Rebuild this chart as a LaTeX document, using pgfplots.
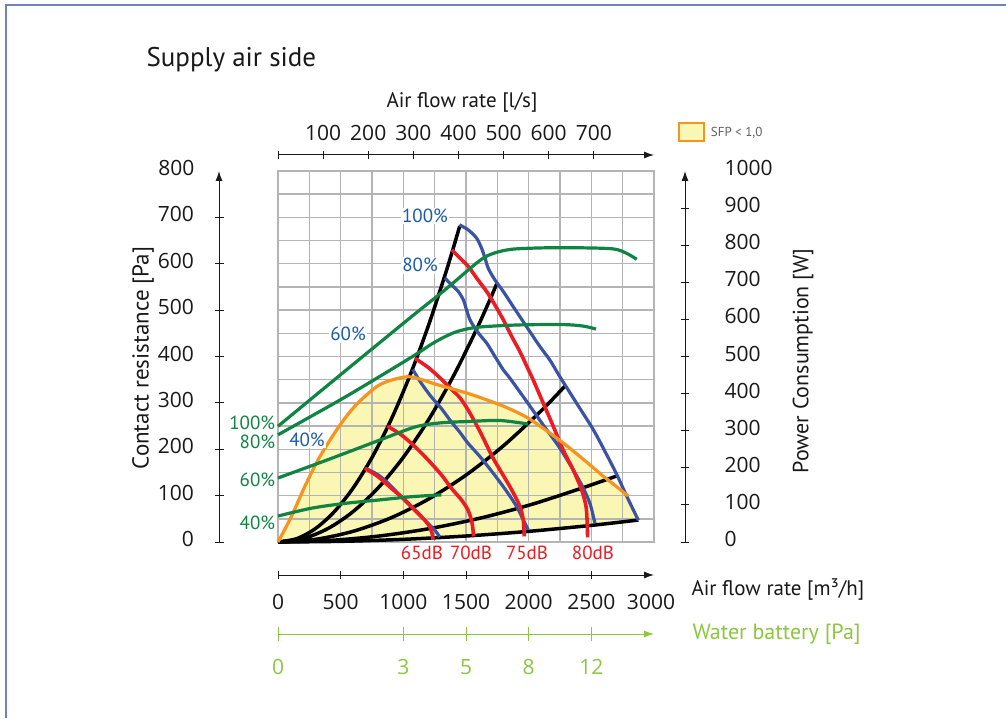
\documentclass[border=0pt]{standalone}
\usepackage{fontspec}
\setmainfont{PT Sans}
\newfontfamily\numfont{Open Sans}
\usepackage{pgfplots}
\pgfplotsset{compat=1.18}
\usetikzlibrary{arrows.meta}

\definecolor{cblue}{RGB}{58,83,164}
\definecolor{cred}{RGB}{237,28,36}
\definecolor{cgreen}{RGB}{16,133,67}
\definecolor{clgreen}{RGB}{141,198,63}
\definecolor{corange}{RGB}{247,148,30}
\definecolor{cyellow}{RGB}{250,246,180}
\definecolor{cgrid}{RGB}{180,180,180}
\definecolor{cframe}{RGB}{112,128,192}
\definecolor{ctext}{RGB}{25,25,25}
\definecolor{clabblue}{RGB}{30,90,170}

\tikzset{arrowaxis/.style={-{Latex[length=10pt,width=7pt]}}}
\pgfplotsset{
  base/.style={scale only axis, anchor=south west, clip=false,
    /pgf/number format/assume math mode=true,
    /pgf/number format/1000 sep={},
    tick label style={font=\numfont\fontsize{21}{24}\selectfont, text=ctext}},
}

\begin{document}
\begin{tikzpicture}[x=1pt,y=1pt]
\useasboundingbox (0,0) rectangle (1006,718);
\fill[white] (0,0) rectangle (1006,718);
\draw[cframe, line width=1.5pt] (6,0) -- (6,713) -- (1006,713);

% ---------- fill of SFP region + legend
\begin{axis}[base, at={(278pt,176pt)}, width=376pt, height=371pt,
  xmin=0, xmax=3000, ymin=0, ymax=800, hide axis,
  legend style={at={(1.063,1.104)}, anchor=west, draw=none, fill=none,
    inner sep=0pt, font=\fontsize{13}{15}\selectfont, text=black!62},
  legend image code/.code={\draw[draw=corange, fill=cyellow, line width=2pt] (0pt,-9pt) rectangle (25pt,9pt);}]
\addplot[fill=cyellow, draw=none] coordinates {
(0,0) (106,54.6) (213,119.3) (319,176.8) (425,224) (532,266) (638,300)
(798,337) (931,351) (1064,356) (1268,339.5) (1532,319) (1795,293.3)
(1987,268.5) (2146,239.4) (2306,207.1) (2466,171.5) (2593,142.4) (2705,118.6)
(2793,99.2) (2875,47.4) (2500,35.84) (2000,22.94) (1500,12.9)
(1000,5.74) (500,1.43) (0,0)};
\addlegendentry{\hspace{4pt}SFP < 1,0}
\end{axis}

% ---------- grid and main curves
\begin{axis}[base, at={(278pt,176pt)}, width=376pt, height=371pt,
  xmin=0, xmax=3000, ymin=0, ymax=800,
  xtick={0,250,...,3000}, ytick={0,50,...,800},
  xticklabels={}, yticklabels={}, major tick length=0pt,
  grid=major, major grid style={cgrid, line width=1.5pt},
  axis line style={cgrid, line width=1.7pt}]
% system curves
\addplot[black, line width=3.5pt, smooth] coordinates {(0,0) (150,7.29) (300,29.16) (450,65.61) (600,116.64) (750,182.25) (900,262.44) (1050,357.21) (1200,466.56) (1350,590.49) (1450,681.21)};
\addplot[black, line width=3.5pt, smooth] coordinates {(0,0) (200,7.31) (400,29.23) (600,65.77) (800,116.93) (1000,182.7) (1200,263.09) (1400,358.09) (1600,467.71) (1745,556.33)};
\addplot[black, line width=3.5pt, smooth] coordinates {(0,0) (300,5.77) (600,23.09) (900,51.96) (1200,92.38) (1500,144.34) (1800,207.85) (2100,282.9) (2290,336.41)};
\addplot[black, line width=3.5pt, smooth] coordinates {(0,0) (400,3.17) (800,12.67) (1200,28.5) (1600,50.66) (2000,79.16) (2400,113.99) (2710,143)};
\addplot[black, line width=3.5pt, smooth] coordinates {(0,0) (500,1.43) (1000,5.74) (1500,12.9) (2000,22.94) (2500,35.84) (2875,47.4)};
% fan speed curves
\addplot[cblue, line width=3.2pt, smooth] coordinates {(1447,684) (1518,673) (1585,655) (1625,633) (1652,612) (1678,590) (1731,565) (1798,540) (1878,507) (1984,464) (2091,421) (2170,392) (2250,356) (2383,299) (2516,242) (2623,188) (2702,146) (2782,99) (2875,47)};
\addplot[cblue, line width=3.2pt, smooth] coordinates {(1332,569) (1386,554) (1439,540) (1479,522) (1505,500) (1532,479) (1572,461) (1612,446) (1665,429) (1731,400) (1798,371) (1851,353) (1984,303) (2117,252) (2250,202) (2356,155) (2436,116) (2489,83) (2516,55) (2529,40)};
\addplot[cblue, line width=3.2pt, smooth] coordinates {(1075,372) (1144,342) (1223,313) (1303,288) (1383,259) (1447,238) (1516,213) (1612,184) (1718,148) (1825,109) (1905,76) (1958,47) (1997,26)};
\addplot[cblue, line width=3.2pt, smooth] coordinates {(697,159) (798,145) (878,127) (957,105) (1037,83) (1117,62) (1197,40) (1250,26) (1290,11)};
% sound level curves
\addplot[cred, line width=3.6pt, smooth] coordinates {(692,159) (798,141) (904,116) (1011,91) (1091,69) (1171,47) (1210,33) (1229,19) (1237,6)};
\addplot[cred, line width=3.6pt, smooth] coordinates {(872,250) (984,231) (1091,206) (1197,177) (1303,145) (1383,116) (1463,91) (1516,69) (1540,50) (1553,33) (1560,12)};
\addplot[cred, line width=3.6pt, smooth] coordinates {(1093,396) (1200,376) (1300,352) (1400,325) (1452,311) (1516,285) (1612,238) (1718,180) (1851,119) (1931,76) (1957,47) (1965,12)};
\addplot[cred, line width=3.6pt, smooth] coordinates {(1386,630) (1452,612) (1519,594) (1585,569) (1665,540) (1731,511) (1798,479) (1865,443) (1931,410) (1997,372) (2037,349) (2117,299) (2197,249) (2276,198) (2356,155) (2423,112) (2458,76) (2468,33) (2470,10)};
% SFP boundary
\addplot[corange, line width=3.2pt, smooth] coordinates {(0,0) (106,54.6) (213,119.3) (319,176.8) (425,224) (532,266) (638,300) (798,337) (931,351) (1064,356) (1268,339.5) (1532,319) (1795,293.3) (1987,268.5) (2146,239.4) (2306,207.1) (2466,171.5) (2593,142.4) (2705,118.6) (2793,99.2)};
% labels
\tikzset{bl/.style={text=clabblue, fill=white, inner sep=1.5pt, font=\fontsize{19}{22}\selectfont}}
\node[bl] at (axis cs:1173,703) {100\%};
\node[bl] at (axis cs:1133,597) {80\%};
\node[bl] at (axis cs:559,448) {60\%};
\node[bl] at (axis cs:231,220) {40\%};
\tikzset{gl/.style={text=cgreen, anchor=east, inner sep=0pt, font=\fontsize{19}{22}\selectfont}}
\node[gl] at (axis cs:-22,256) {100\%};
\node[gl] at (axis cs:-22,216) {80\%};
\node[gl] at (axis cs:-22,134) {60\%};
\node[gl] at (axis cs:-22,41) {40\%};
\tikzset{rl/.style={text=cred, font=\fontsize{19}{22}\selectfont}}
\node[rl] at (axis cs:1149,-24) {65dB};
\node[rl] at (axis cs:1540,-24) {70dB};
\node[rl] at (axis cs:1987,-24) {75dB};
\node[rl] at (axis cs:2513,-24) {80dB};
\end{axis}

% ---------- power consumption curves
\begin{axis}[base, at={(278pt,176pt)}, width=376pt, height=371pt,
  xmin=0, xmax=3000, ymin=0, ymax=1000, hide axis]
\addplot[cgreen, line width=3.2pt, smooth] coordinates {(0,312) (532,460) (1064,607) (1330,679) (1596,755) (1702,776) (1862,789) (2144,793) (2410,793) (2675,790) (2782,778) (2862,762)};
\addplot[cgreen, line width=3.2pt, smooth] coordinates {(0,289) (532,390) (1064,498) (1223,533) (1330,553) (1436,568) (1596,579) (1915,585) (2274,586) (2434,582) (2537,574)};
\addplot[cgreen, line width=3.2pt, smooth] coordinates {(0,172.5) (415,224) (814,275) (1093,310) (1293,321) (1532,325) (1771,327.5) (1995,318)};
\addplot[cgreen, line width=3.2pt, smooth] coordinates {(0,70) (266,91) (532,104) (798,113) (1064,122) (1303,127)};
\end{axis}

% ---------- left axis (Pa)
\begin{axis}[base, at={(219pt,176pt)}, width=1pt, height=371pt,
  xmin=0, xmax=1, ymin=0, ymax=800, axis x line=none, axis y line*=left,
  ytick={0,100,...,700}, extra y ticks={800},
  extra y tick style={major tick length=0pt, yticklabel style={xshift=-4pt}},
  major tick length=9pt, tick align=center,
  y axis line style={ctext, line width=1pt, arrowaxis},
  tick style={ctext, line width=1pt},
  yticklabel style={xshift=-17pt, yshift=3pt}]
\end{axis}

% ---------- right axis (W)
\begin{axis}[base, at={(684pt,176pt)}, width=1pt, height=371pt,
  xmin=0, xmax=1, ymin=0, ymax=1000, axis x line=none, axis y line*=right,
  ytick={0,100,...,900}, extra y ticks={1000},
  extra y tick style={major tick length=0pt, yticklabel style={xshift=4pt}},
  major tick length=8pt, tick align=center,
  y axis line style={ctext, line width=1pt, arrowaxis},
  tick style={ctext, line width=1pt},
  yticklabel style={xshift=32pt, yshift=3pt}]
\end{axis}

% ---------- bottom axis (m3/h)
\begin{axis}[base, at={(278pt,143pt)}, width=376pt, height=1pt,
  xmin=0, xmax=3000, ymin=0, ymax=1, axis y line=none, axis x line*=bottom,
  xtick={0,500,...,2500}, extra x ticks={3000},
  extra x tick style={major tick length=0pt, xticklabel style={yshift=-4pt, xshift=-3pt}},
  major tick length=8pt, tick align=center,
  x axis line style={ctext, line width=1pt, arrowaxis},
  tick style={ctext, line width=1pt},
  xticklabel style={yshift=-12pt}]
\end{axis}

% ---------- water battery axis
\begin{axis}[base, at={(278pt,84pt)}, width=376pt, height=1pt,
  xmin=0, xmax=3000, ymin=0, ymax=1, axis y line=none, axis x line*=bottom,
  xtick={0,1000,1500,2000,2500}, xticklabels={0,3,5,8,12},
  major tick length=15pt, tick align=center,
  x axis line style={clgreen, line width=1pt, arrowaxis},
  tick style={clgreen, line width=1pt},
  xticklabel style={yshift=-14pt, text=clgreen}]
\end{axis}

% ---------- top axis (l/s)
\begin{axis}[base, at={(278pt,562pt)}, width=376pt, height=1pt,
  xmin=0, xmax=833.333, ymin=0, ymax=1, axis y line=none, axis x line*=top,
  xtick={0,100,...,700}, xticklabels={{},100,200,300,400,500,600,700},
  major tick length=8pt, tick align=center,
  x axis line style={ctext, line width=1pt, arrowaxis},
  tick style={ctext, line width=1pt},
  xticklabel style={yshift=7pt}]
\end{axis}

% ---------- titles
\node[anchor=base west, font=\fontsize{27}{32}\selectfont, text=ctext] at (143,651) {Supply air side};
\node[font=\fontsize{21}{25}\selectfont, text=ctext] at (462,616) {Air flow rate [l/s]};
\node[anchor=west, font=\fontsize{21}{25}\selectfont, text=ctext] at (688,128) {Air flow rate [m³/h]};
\node[anchor=west, font=\fontsize{22}{26}\selectfont, text=clgreen] at (689,84) {Water battery [Pa]};
\node[rotate=90, font=\fontsize{23}{27}\selectfont, text=ctext] at (143,360) {Contact resistance [Pa]};
\node[rotate=90, font=\fontsize{22}{26}\selectfont, text=ctext] at (803,357) {Power Consumption [W]};
\end{tikzpicture}
\end{document}
